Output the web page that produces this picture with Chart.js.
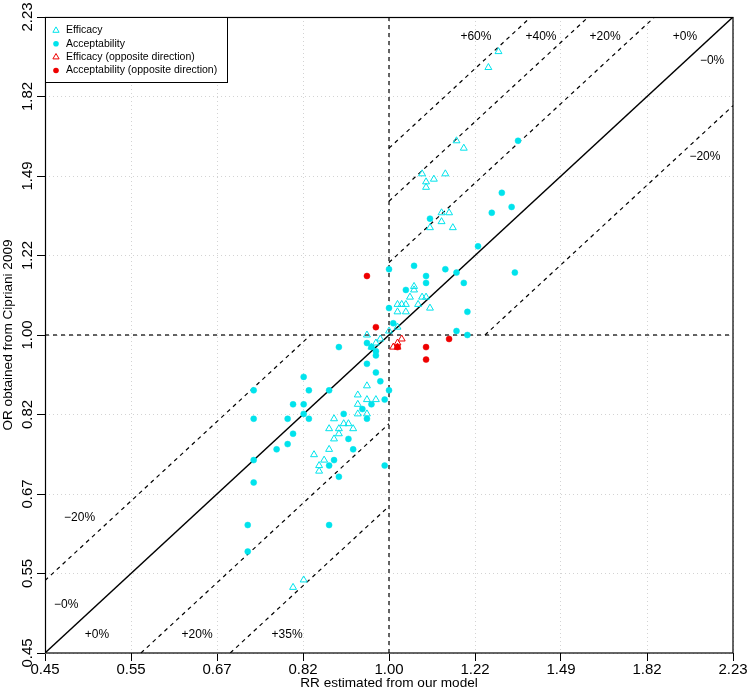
<!DOCTYPE html>
<html><head><meta charset="utf-8">
<script src="https://cdn.jsdelivr.net/npm/chart.js@4.4.0/dist/chart.umd.min.js"></script>
<style>html,body{margin:0;padding:0;background:#fff;}canvas{display:block;}</style>
</head><body>
<canvas id="c" width="750" height="699"></canvas>
<script>
// ---- tick labels (log-spaced axis, labels as printed) ----
const tickLabels = ['0.45','0.55','0.67','0.82','1.00','1.22','1.49','1.82','2.23'];
const tickLogs   = [-0.8,-0.6,-0.4,-0.2,0,0.2,0.4,0.6,0.8];

// ---- series: Efficacy (open cyan triangles) ----
const efficacyRR = [1.29,1.26,1.17,1.19,1.08,1.11,1.14,1.09,1.09,1.13,1.15,1.13,1.10,1.16,1.06,1.06,1.05,1.08,1.09,1.07,1.02,1.03,1.04,1.10,1.02,1.04,1.02,1.00,0.95,0.98,0.97,0.96,0.95,0.93,0.95,0.97,0.93,0.93,0.95,0.88,0.90,0.91,0.87,0.89,0.92,0.89,0.88,0.87,0.86,0.84,0.85,0.85,0.82,0.80];
const efficacyOR = [2.04,1.96,1.63,1.60,1.50,1.48,1.50,1.47,1.45,1.36,1.36,1.33,1.31,1.31,1.13,1.12,1.10,1.10,1.10,1.08,1.08,1.08,1.08,1.07,1.06,1.06,1.02,1.01,1.00,0.99,0.98,0.97,0.88,0.86,0.85,0.85,0.84,0.82,0.82,0.81,0.80,0.80,0.79,0.79,0.79,0.78,0.77,0.75,0.73,0.74,0.72,0.71,0.54,0.53];

// ---- series: Acceptability (filled cyan circles) ----
const acceptRR = [1.35,1.30,1.33,1.27,1.10,1.23,1.00,1.06,1.14,1.17,1.09,1.09,1.19,1.34,1.04,1.00,1.20,1.01,1.17,1.20,0.89,0.95,0.96,0.97,0.97,0.95,0.97,0.98,1.00,0.87,0.99,0.96,0.94,0.90,0.95,0.91,0.92,0.88,0.73,0.82,0.83,0.80,0.82,0.82,0.73,0.79,0.83,0.80,0.79,0.77,0.73,0.73,0.87,0.89,0.72,0.87,0.72,0.99];
const acceptOR = [1.63,1.43,1.38,1.36,1.34,1.25,1.18,1.19,1.18,1.17,1.16,1.14,1.14,1.17,1.12,1.07,1.06,1.03,1.01,1.00,0.97,0.98,0.97,0.96,0.95,0.93,0.91,0.89,0.87,0.87,0.85,0.84,0.83,0.82,0.81,0.77,0.75,0.73,0.87,0.90,0.87,0.84,0.84,0.82,0.81,0.81,0.81,0.78,0.76,0.75,0.73,0.69,0.72,0.70,0.62,0.62,0.58,0.72];

// ---- series: opposite direction (red) ----
const effOppRR = [1.03,1.02,1.01,1.02];
const effOppOR = [0.99,0.98,0.97,0.97];
const accOppRR = [0.95,0.97,1.15,1.09,1.09,1.02];
const accOppOR = [1.16,1.02,0.99,0.97,0.94,0.97];

// ---- reference lines y = r * x (ratios), per quadrant ----
const upperRatios = [1.6, 1.4, 1.2, 0.8];
const lowerRatios = [1.2, 0.8, 0.65];
const refLabels = [
  {t:'+60%', x:1.224, y:2.116}, {t:'+40%', x:1.424, y:2.116},
  {t:'+20%', x:1.653, y:2.116}, {t:'+0%',  x:1.990, y:2.116},
  {t:'\u22120%', x:2.120, y:1.992}, {t:'\u221220%', x:2.085, y:1.565},
  {t:'\u221220%', x:0.487, y:0.631}, {t:'\u22120%', x:0.472, y:0.507},
  {t:'+0%', x:0.507, y:0.471}, {t:'+20%', x:0.640, y:0.471}, {t:'+35%', x:0.789, y:0.471}
];
const legendLabels = ['Efficacy','Acceptability','Efficacy (opposite direction)','Acceptability (opposite direction)'];

const CYAN = '#00E3EC', RED = '#EE0000';
const LO = Math.exp(tickLogs[0]), HI = Math.exp(tickLogs[tickLogs.length-1]);
const FONT = '"Liberation Sans", Arial, Helvetica, sans-serif';
Chart.defaults.font.family = FONT;
Chart.defaults.color = '#000';

const zip = (a,b) => a.map((v,i)=>({x:v, y:b[i]}));

function seg(r, lo, hi) {
  const xs = Math.max(lo, lo / r), xe = Math.min(hi, hi / r);
  return [{x:xs, y:r*xs}, {x:xe, y:r*xe}];
}
const lineDs = (data, dash, w) => ({type:'scatter', data, showLine:true, borderColor:'#000', borderWidth:w,
  borderDash:dash, pointRadius:0, fill:false, tension:0});

const datasets = [
  {data: zip(accOppRR, accOppOR), pointStyle:'circle', pointRadius:3, backgroundColor:RED, borderColor:RED, borderWidth:0.5},
  {data: zip(effOppRR, effOppOR), pointStyle:'triangle', pointRadius:4, backgroundColor:'rgba(0,0,0,0)', borderColor:RED, borderWidth:1},
  {data: zip(acceptRR, acceptOR), pointStyle:'circle', pointRadius:3, backgroundColor:CYAN, borderColor:CYAN, borderWidth:0.5},
  {data: zip(efficacyRR, efficacyOR), pointStyle:'triangle', pointRadius:4, backgroundColor:'rgba(0,0,0,0)', borderColor:CYAN, borderWidth:1},
  lineDs([{x:LO,y:LO},{x:HI,y:HI}], [], 1.4),
  lineDs([{x:1,y:LO},{x:1,y:HI}], [4,4], 1.2),
  lineDs([{x:LO,y:1},{x:HI,y:1}], [4,4], 1.2),
  ...upperRatios.map(r => lineDs(seg(r, 1, HI), [4,4], 1.2)),
  ...lowerRatios.map(r => lineDs(seg(r, LO, 1), [4,4], 1.2))
];

const overlay = {
  id:'overlay',
  afterDraw(chart) {
    const {ctx, chartArea:ca, scales:{x, y}} = chart;
    ctx.save();
    // reference line labels
    ctx.fillStyle = '#000';
    ctx.font = '12px ' + FONT;
    ctx.textAlign = 'center'; ctx.textBaseline = 'middle';
    refLabels.forEach(l => ctx.fillText(l.t, x.getPixelForValue(l.x), y.getPixelForValue(l.y)));
    // plot box
    ctx.strokeStyle = '#000'; ctx.lineWidth = 1.2;
    ctx.strokeRect(ca.left + 0.5, ca.top + 0.5, ca.right - ca.left - 0.5, ca.bottom - ca.top - 0.5);
    // legend
    const L = ca.left + 0.5, T = ca.top + 0.5, W = 182, H = 65;
    ctx.fillStyle = '#fff'; ctx.fillRect(L, T, W, H);
    ctx.lineWidth = 1;
    ctx.strokeRect(L, T, W, H);
    const rows = [13, 26.3, 39.6, 53];
    const cols = [CYAN, CYAN, RED, RED];
    ctx.font = '10.5px ' + FONT; ctx.textAlign = 'left';
    legendLabels.forEach((t, i) => {
      const cy = T + rows[i], cx = ca.left + 11;
      ctx.strokeStyle = cols[i]; ctx.fillStyle = cols[i]; ctx.lineWidth = 1;
      if (i % 2 === 0) {
        const r = 3.6;
        ctx.beginPath();
        ctx.moveTo(cx, cy - r);
        ctx.lineTo(cx + r * 0.866, cy + r * 0.5);
        ctx.lineTo(cx - r * 0.866, cy + r * 0.5);
        ctx.closePath(); ctx.stroke();
      } else {
        ctx.beginPath(); ctx.arc(cx, cy, 2.8, 0, Math.PI * 2); ctx.fill();
      }
      ctx.fillStyle = '#000';
      ctx.fillText(t, ca.left + 21, cy);
    });
    ctx.restore();
  }
};

const axisCommon = {
  type:'logarithmic', min: LO, max: HI,
  afterBuildTicks: a => { a.ticks = tickLogs.map(v => ({value: Math.exp(v)})); },
  grid: {color:'#D3D3D3', lineWidth:1, tickColor:'#000', tickLength:8, tickWidth:1, tickBorderDash:[]},
  border: {display:false, dash:[1,3]}
};

new Chart(document.getElementById('c'), {
  type:'scatter',
  data:{datasets},
  options:{
    responsive:false, animation:false, devicePixelRatio:1, events:[],
    layout:{padding:{top:17, right:17, left:0, bottom:0}},
    plugins:{legend:{display:false}, tooltip:{enabled:false}},
    scales:{
      x:{...axisCommon, position:'bottom',
        afterFit: a => { a.height = 46; },
        ticks:{callback:(v,i)=>tickLabels[i], font:{size:15}, color:'#000', padding:0, minRotation:0, maxRotation:0, autoSkip:false},
        title:{display:true, text:'RR estimated from our model', font:{size:13.6}, color:'#000', padding:{top:0, bottom:8}}
      },
      y:{...axisCommon, position:'left',
        afterFit: a => { a.width = 45; },
        ticks:{callback:(v,i)=>tickLabels[i], font:{size:15}, color:'#000', padding:-5, minRotation:90, maxRotation:90, crossAlign:'center', autoSkip:false},
        title:{display:true, text:'OR obtained from Cipriani 2009', font:{size:13.6}, color:'#000', padding:{top:0, bottom:0}}
      }
    }
  },
  plugins:[overlay]
});
</script>
</body></html>
